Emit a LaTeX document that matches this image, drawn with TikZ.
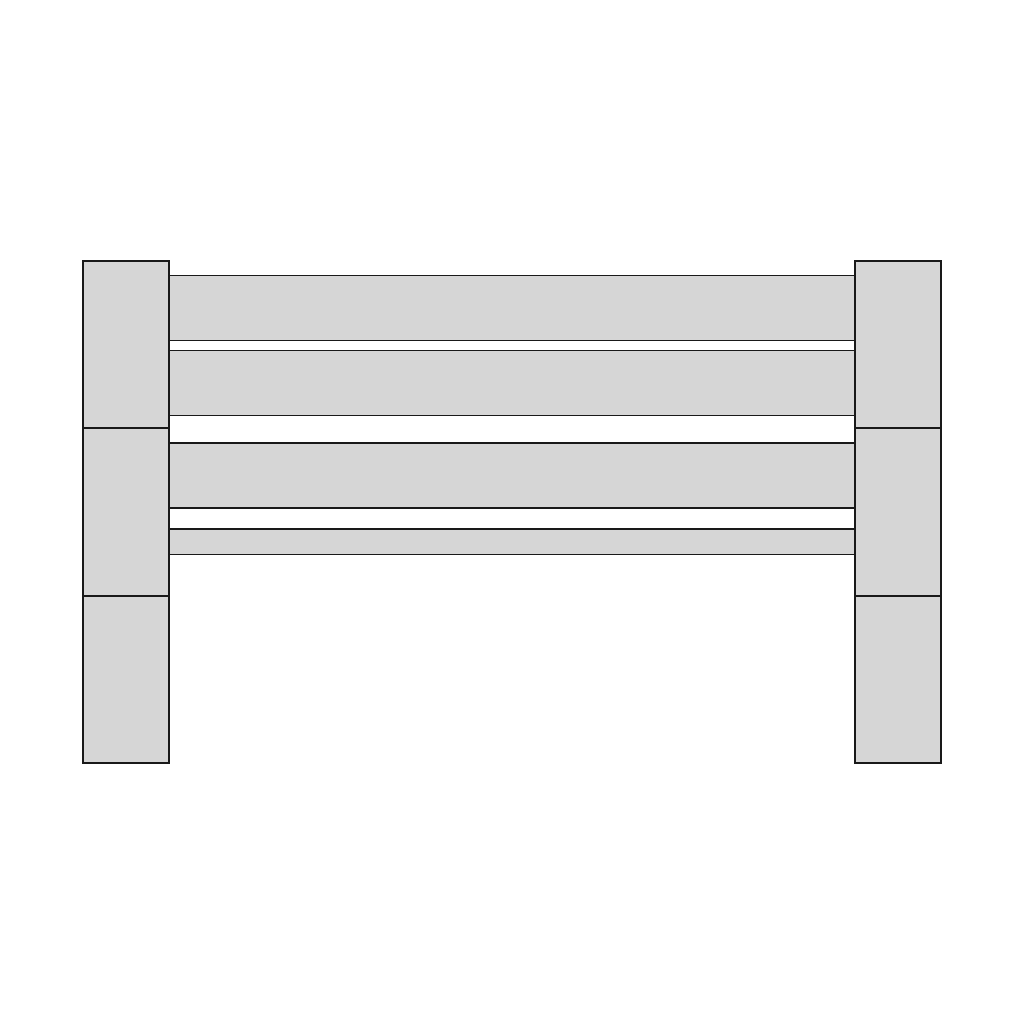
\documentclass[tikz,border=0pt]{standalone}
\usepackage{tikz}
\usetikzlibrary{calc, positioning}

\tikzset{
    plank/.style={draw=black!90, line width=0.45pt, fill=black!16},
}

\begin{document}
\begin{tikzpicture}[x=0.1mm, y=-0.1mm]
        \useasboundingbox (0,0) rectangle (1024,1024);
        % rails between the posts
        \foreach \top/\bot in
        {275.5/340.5,
         350.7/415.7,
         443/508,
         529/554.7
        }
        {
            \draw[plank] (169,\top) rectangle (855,\bot);
        };
        % posts, three blocks each side
        \foreach \xl/\xr in {82.8/169.2, 854.8/941.2}
        {
            \foreach \ya/\yb in {260.8/428, 428/596, 596/762.8}
            {
                \draw[plank] (\xl,\ya) rectangle (\xr,\yb);
            };
        };
    \end{tikzpicture}
\end{document}
